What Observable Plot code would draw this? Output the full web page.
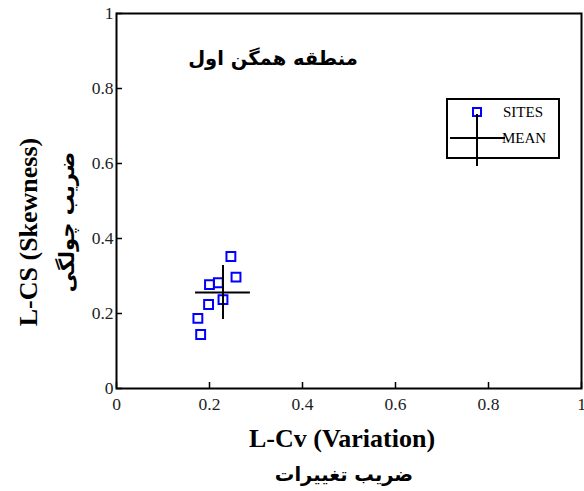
<!DOCTYPE html>
<html><head><meta charset="utf-8">
<script src="https://cdn.jsdelivr.net/npm/d3@7"></script>
<script src="https://cdn.jsdelivr.net/npm/@observablehq/plot@0.6"></script>
<style>body{margin:0;background:#fff}</style>
</head><body><div id="chart"></div>
<script>
const siteLCv = [0.246, 0.257, 0.200, 0.219, 0.229, 0.198, 0.175, 0.181];
const siteLCs = [0.352, 0.297, 0.277, 0.282, 0.237, 0.224, 0.187, 0.144];
const meanLCv = 0.229, meanLCs = 0.256;
const meanHalfX = 0.059, meanHalfY = 0.072;
const ticks = [0, 0.2, 0.4, 0.6, 0.8, 1];
const titleText = "منطقه همگن اول";
const xLabel = "L-Cv (Variation)", xLabelFa = "ضریب تغییرات";
const yLabel = "L-CS (Skewness)", yLabelFa = "ضریب چولگی";
const legendLabels = ["SITES", "MEAN"];

const sites = siteLCv.map((v, i) => ({x: v, y: siteLCs[i]}));
const W = 584, H = 491, mt = 13, mb = 103, ml = 116, mr = 3;
const fw = W - ml - mr, fh = H - mt - mb;
const serif = "'Liberation Serif', 'Times New Roman', serif";
const fa = "'DejaVu Sans', sans-serif";

const plot = Plot.plot({
  width: W, height: H,
  marginTop: mt, marginBottom: mb, marginLeft: ml, marginRight: mr,
  x: {domain: [0, 1], ticks, tickFormat: d => String(d), label: null},
  y: {domain: [0, 1], ticks, tickFormat: d => String(d), label: null},
  marks: [
    Plot.axisX({ticks, tickFormat: d => String(d), tickSize: 0, tickPadding: 9, label: null}),
    Plot.axisY({ticks, tickFormat: d => String(d), tickSize: 0, tickPadding: 3, label: null}),
    Plot.tickX(ticks, {x: d => d, insetTop: fh - 6, stroke: "#000", strokeWidth: 1.5}),
    Plot.tickY(ticks, {y: d => d, insetRight: fw - 6, stroke: "#000", strokeWidth: 1.5}),
    Plot.frame({stroke: "#000", strokeWidth: 2}),
    Plot.dot(sites, {x: "x", y: "y", symbol: "square", r: 5, stroke: "#0000ff", strokeWidth: 2, fill: "none"}),
    Plot.ruleY([meanLCs], {x1: meanLCv - meanHalfX, x2: meanLCv + meanHalfX, stroke: "#000", strokeWidth: 2}),
    Plot.ruleX([meanLCv], {y1: meanLCs - meanHalfY, y2: meanLCs + meanHalfY, stroke: "#000", strokeWidth: 2})
  ]
});
document.getElementById("chart").appendChild(plot);

const svg = d3.select(plot);
svg.attr("font-family", serif).attr("font-size", 17.5);
svg.selectAll("g[aria-label$='tick label']").attr("font-family", serif).attr("font-size", 17.5).attr("fill", "#222");
svg.selectAll("text").attr("font-family", serif).attr("font-size", 17.5).attr("fill", "#222");
// title
const T = (x, y) => svg.append("text").attr("x", x).attr("y", y).attr("fill", "#000");
T(273, 65).attr("text-anchor", "middle").attr("font-family", fa).attr("font-weight", "bold")
  .attr("font-size", 19.5).attr("direction", "rtl").text(titleText);
// x labels
T(342, 447).attr("text-anchor", "middle").attr("font-family", serif).attr("font-weight", "bold")
  .attr("font-size", 26).text(xLabel);
T(344, 481).attr("text-anchor", "middle").attr("font-family", fa).attr("font-weight", "bold")
  .attr("font-size", 19.5).attr("direction", "rtl").text(xLabelFa);
// y labels
svg.append("text").attr("transform", "translate(37,232) rotate(-90)").attr("text-anchor", "middle")
  .attr("font-family", serif).attr("font-weight", "bold").attr("font-size", 26).attr("fill", "#000").text(yLabel);
svg.append("text").attr("transform", "translate(74,222) rotate(-90)").attr("text-anchor", "middle")
  .attr("font-family", fa).attr("font-weight", "bold").attr("font-size", 21).attr("fill", "#000")
  .attr("direction", "rtl").text(yLabelFa);
// legend
const lg = svg.append("g");
lg.append("rect").attr("x", 447).attr("y", 99).attr("width", 112).attr("height", 59)
  .attr("fill", "#fff").attr("stroke", "#000").attr("stroke-width", 2);
lg.append("rect").attr("x", 473).attr("y", 108).attr("width", 8).attr("height", 8)
  .attr("fill", "none").attr("stroke", "#0000ff").attr("stroke-width", 2);
lg.append("line").attr("x1", 477).attr("x2", 477).attr("y1", 114).attr("y2", 166).attr("stroke", "#000").attr("stroke-width", 2);
lg.append("line").attr("x1", 450).attr("x2", 505).attr("y1", 138).attr("y2", 138).attr("stroke", "#000").attr("stroke-width", 2);
lg.append("text").attr("x", 503).attr("y", 117).attr("text-anchor", "start").attr("font-family", serif).attr("font-size", 15).attr("fill", "#000").text(legendLabels[0]);
lg.append("text").attr("x", 502).attr("y", 143).attr("text-anchor", "start").attr("font-family", serif).attr("font-size", 15).attr("fill", "#000").text(legendLabels[1]);
</script></body></html>
